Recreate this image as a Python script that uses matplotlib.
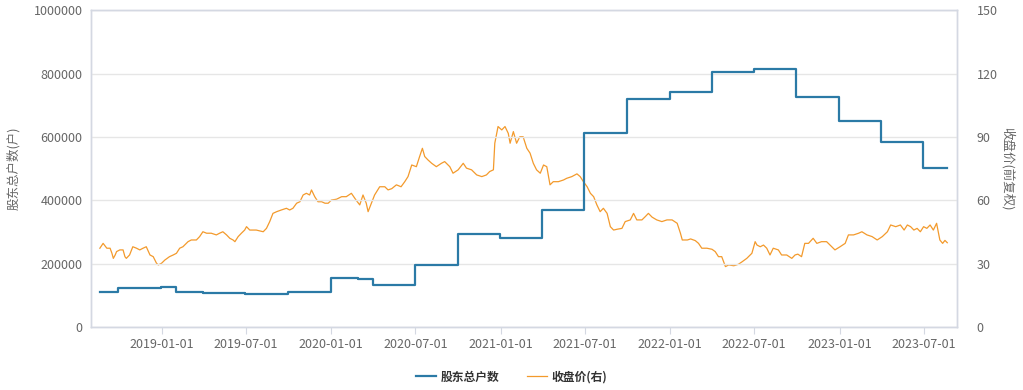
import pandas as pd
import matplotlib
matplotlib.use('Agg')
import matplotlib.pyplot as plt
import matplotlib.dates as mdates
from matplotlib.ticker import FuncFormatter

plt.rcParams['font.family'] = ['Noto Sans CJK SC', 'DejaVu Sans']

# shareholder count (step, value holds until next date)
holder_dates = ['2018-08-21', '2018-09-30', '2018-12-31', '2019-01-31', '2019-03-31',
                '2019-06-30', '2019-09-30', '2019-12-31', '2020-02-29', '2020-03-31',
                '2020-06-30', '2020-09-30', '2020-12-31', '2021-03-31', '2021-06-30',
                '2021-09-30', '2021-12-31', '2022-03-31', '2022-06-30', '2022-09-30',
                '2022-12-31', '2023-03-31', '2023-06-30', '2023-08-21']
holders = [112000, 122000, 127000, 112000, 108000,
           104000, 112000, 154000, 150000, 132000,
           196000, 292000, 282000, 369000, 611000,
           720000, 743000, 806000, 815000, 727000,
           651000, 585000, 503000, 503000]

# close price (forward adjusted)
price_dates = ['2018-08-21', '2018-08-28', '2018-09-05', '2018-09-12', '2018-09-16', '2018-09-19',
               '2018-09-23', '2018-09-26', '2018-10-03', '2018-10-10', '2018-10-14', '2018-10-17',
               '2018-10-24', '2018-10-31', '2018-11-08', '2018-11-15', '2018-11-22', '2018-11-29',
               '2018-12-07', '2018-12-14', '2018-12-21', '2018-12-25', '2019-01-01', '2019-01-08',
               '2019-01-18', '2019-01-26', '2019-02-02', '2019-02-09', '2019-02-16', '2019-02-27',
               '2019-03-06', '2019-03-17', '2019-03-24', '2019-03-31', '2019-04-08', '2019-04-18',
               '2019-04-29', '2019-05-06', '2019-05-13', '2019-05-21', '2019-05-28', '2019-06-04',
               '2019-06-08', '2019-06-15', '2019-06-22', '2019-06-29', '2019-07-03', '2019-07-10',
               '2019-07-24', '2019-08-08', '2019-08-15', '2019-08-22', '2019-08-29', '2019-09-06',
               '2019-09-16', '2019-09-27', '2019-10-04', '2019-10-11', '2019-10-19', '2019-10-26',
               '2019-11-02', '2019-11-09', '2019-11-16', '2019-11-20', '2019-11-27', '2019-12-04',
               '2019-12-12', '2019-12-19', '2019-12-26', '2020-01-02', '2020-01-13', '2020-01-24',
               '2020-02-03', '2020-02-14', '2020-02-24', '2020-03-03', '2020-03-10', '2020-03-17',
               '2020-03-21', '2020-03-28', '2020-04-04', '2020-04-15', '2020-04-26', '2020-05-03',
               '2020-05-11', '2020-05-21', '2020-05-31', '2020-06-08', '2020-06-15', '2020-06-23',
               '2020-07-03', '2020-07-10', '2020-07-16', '2020-07-21', '2020-07-28', '2020-08-05',
               '2020-08-15', '2020-08-26', '2020-09-02', '2020-09-13', '2020-09-20', '2020-10-01',
               '2020-10-12', '2020-10-19', '2020-10-30', '2020-11-10', '2020-11-21', '2020-12-01',
               '2020-12-08', '2020-12-16', '2020-12-19', '2020-12-26', '2021-01-03', '2021-01-10',
               '2021-01-17', '2021-01-21', '2021-01-28', '2021-02-04', '2021-02-11', '2021-02-18',
               '2021-02-26', '2021-03-05', '2021-03-12', '2021-03-19', '2021-03-27', '2021-04-03',
               '2021-04-10', '2021-04-17', '2021-04-24', '2021-05-05', '2021-05-16', '2021-05-23',
               '2021-06-03', '2021-06-14', '2021-06-21', '2021-06-28', '2021-07-06', '2021-07-13',
               '2021-07-20', '2021-07-27', '2021-08-03', '2021-08-10', '2021-08-18', '2021-08-25',
               '2021-09-01', '2021-09-09', '2021-09-19', '2021-09-26', '2021-10-07', '2021-10-14',
               '2021-10-21', '2021-11-01', '2021-11-08', '2021-11-15', '2021-11-23', '2021-12-03',
               '2021-12-14', '2021-12-25', '2022-01-05', '2022-01-16', '2022-01-23', '2022-01-27',
               '2022-02-07', '2022-02-14', '2022-02-24', '2022-03-03', '2022-03-10', '2022-03-21',
               '2022-04-01', '2022-04-08', '2022-04-15', '2022-04-22', '2022-04-30', '2022-05-07',
               '2022-05-18', '2022-05-28', '2022-06-05', '2022-06-15', '2022-06-26', '2022-07-03',
               '2022-07-07', '2022-07-14', '2022-07-21', '2022-07-28', '2022-08-04', '2022-08-11',
               '2022-08-22', '2022-08-29', '2022-09-09', '2022-09-20', '2022-09-27', '2022-10-03',
               '2022-10-11', '2022-10-18', '2022-10-26', '2022-11-05', '2022-11-13', '2022-11-23',
               '2022-12-04', '2022-12-15', '2022-12-22', '2023-01-02', '2023-01-13', '2023-01-20',
               '2023-01-31', '2023-02-11', '2023-02-18', '2023-03-01', '2023-03-12', '2023-03-23',
               '2023-04-03', '2023-04-14', '2023-04-21', '2023-05-02', '2023-05-12', '2023-05-20',
               '2023-05-27', '2023-06-03', '2023-06-10', '2023-06-17', '2023-06-24', '2023-07-01',
               '2023-07-08', '2023-07-15', '2023-07-22', '2023-07-29', '2023-08-05', '2023-08-11',
               '2023-08-16', '2023-08-21']
prices = [37.3, 39.6, 37.3, 37.3, 34.9, 32.5,
          34.1, 35.7, 36.5, 36.5, 33.3, 32.5,
          34.1, 38.0, 37.3, 36.5, 37.3, 38.0,
          34.1, 33.3, 30.2, 29.4, 30.2, 31.7,
          33.3, 34.1, 34.9, 37.3, 38.0, 40.4,
          41.2, 41.2, 42.8, 45.1, 44.4, 44.4,
          43.6, 44.4, 45.1, 43.6, 42.0, 41.2,
          40.4, 42.8, 44.4, 45.9, 47.5, 45.9,
          45.9, 45.1, 46.7, 49.9, 53.8, 54.6,
          55.4, 56.2, 55.4, 56.2, 58.6, 59.3,
          62.5, 63.3, 62.5, 64.9, 61.7, 59.3,
          59.3, 58.6, 58.6, 60.1, 60.5, 61.7,
          61.7, 63.3, 60.1, 57.8, 62.5, 58.6,
          54.6, 58.6, 62.5, 66.4, 66.4, 64.9,
          65.5, 67.3, 66.4, 68.8, 71.2, 76.7,
          75.9, 80.7, 84.6, 80.7, 79.1, 77.5,
          75.9, 77.5, 78.3, 75.9, 72.8, 74.4,
          77.5, 75.2, 74.4, 72.0, 71.2, 72.0,
          73.6, 74.4, 87.0, 94.9, 93.3, 94.9,
          91.7, 87.0, 92.5, 87.0, 90.1, 90.1,
          84.6, 82.3, 77.5, 74.4, 72.8, 76.7,
          75.9, 67.3, 68.8, 68.8, 69.6, 70.4,
          71.2, 72.5, 71.2, 68.8, 66.4, 63.3,
          61.7, 57.8, 54.6, 56.2, 53.8, 47.5,
          45.9, 46.3, 46.7, 49.9, 50.7, 53.8,
          50.7, 50.7, 52.2, 53.8, 52.0, 50.7,
          49.9, 50.7, 50.7, 49.1, 44.4, 41.2,
          41.2, 41.7, 40.9, 39.6, 37.3, 37.3,
          36.8, 35.7, 33.3, 33.3, 28.6, 29.4,
          29.0, 29.7, 30.9, 32.5, 34.9, 40.4,
          38.8, 38.0, 38.8, 37.3, 34.1, 37.3,
          36.5, 34.1, 34.1, 32.5, 34.1, 34.5,
          33.3, 39.6, 39.6, 42.0, 39.6, 40.4,
          40.4, 38.0, 36.5, 38.0, 39.6, 43.6,
          43.6, 44.4, 45.1, 43.6, 42.8, 41.2,
          42.8, 45.1, 48.3, 47.5, 48.3, 45.9,
          48.3, 47.5, 45.9, 46.7, 45.1, 47.5,
          46.7, 48.3, 45.9, 49.1, 41.2, 39.6,
          41.0, 39.9]

x_ticks = ['2019-01-01', '2019-07-01', '2020-01-01', '2020-07-01', '2021-01-01',
           '2021-07-01', '2022-01-01', '2022-07-01', '2023-01-01', '2023-07-01']

hd = pd.to_datetime(holder_dates)
pdts = pd.to_datetime(price_dates)
ticks = pd.to_datetime(x_ticks)

blue = '#2b7aa6'
orange = '#f39a2c'
grid_c = '#e6e6e6'
frame_c = '#d4d8e2'
txt_c = '#666666'

fig = plt.figure(figsize=(10.23, 3.9), dpi=100)
ax = fig.add_axes([0.089, 0.1615, 0.8465, 0.8125])
ax2 = ax.twinx()

l1, = ax.plot(hd, holders, drawstyle='steps-post', color=blue, lw=1.6, zorder=3)
l2, = ax2.plot(pdts, prices, color=orange, lw=0.9, zorder=2)

ax.set_ylim(0, 1000000)
ax.set_yticks(range(0, 1000001, 200000))
ax.yaxis.set_major_formatter(FuncFormatter(lambda v, p: '%d' % v))
ax2.set_ylim(0, 150)
ax2.set_yticks(range(0, 151, 30))
ax.set_xlim(pd.Timestamp('2018-08-02'), pd.Timestamp('2023-09-11'))
ax.set_xticks(ticks)
ax.xaxis.set_major_formatter(mdates.DateFormatter('%Y-%m-%d'))

ax.grid(axis='y', color=grid_c, lw=1)
ax.set_axisbelow(True)
ax2.set_zorder(ax.get_zorder() - 1)
ax.patch.set_visible(False)

for a in (ax, ax2):
    for s in a.spines.values():
        s.set_color(frame_c)
        s.set_linewidth(1)
ax.tick_params(axis='y', length=0, labelsize=9, labelcolor=txt_c, pad=6)
ax2.tick_params(axis='y', length=0, labelsize=9, labelcolor=txt_c, pad=14)
ax.tick_params(axis='x', length=5, color=frame_c, labelsize=9, labelcolor=txt_c, pad=3)

ax.set_ylabel('股东总户数(户)', fontsize=9, color=txt_c, labelpad=10)
ax2.set_ylabel('收盘价(前复权)', fontsize=9, color=txt_c, rotation=-90, labelpad=12)

fig.legend([l1, l2], ['股东总户数', '收盘价(右)'], loc='center', bbox_to_anchor=(0.5, 0.033),
           ncol=2, frameon=False, handlelength=1.7, handletextpad=0.4, columnspacing=2.3,
           prop={'size': 8.5, 'weight': 'bold'}, labelcolor='#333333')

fig.savefig('out.png', dpi=100)
